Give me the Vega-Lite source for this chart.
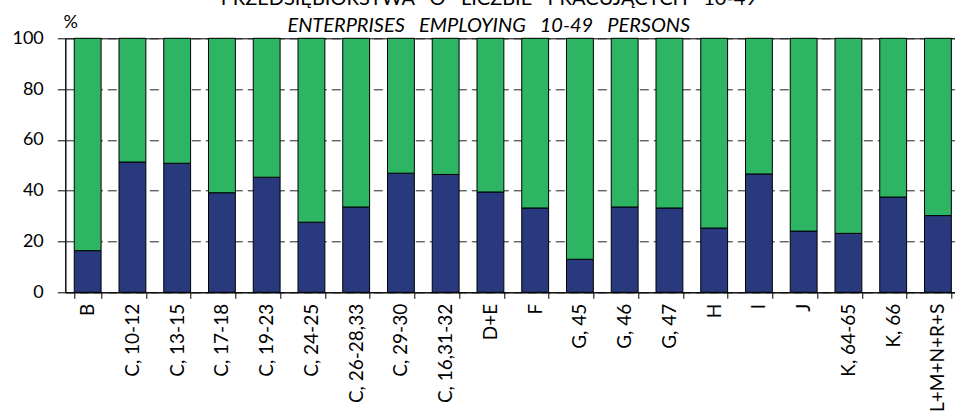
{
  "$schema": "https://vega.github.io/schema/vega-lite/v6.json",
  "autosize": {"type": "none"},
  "padding": {"left": 65.3, "top": 38.3, "right": 0, "bottom": 127},
  "width": 895,
  "height": 254,
  "background": "white",
  "config": {"font": "Lato", "view": {"stroke": "black", "strokeWidth": 1}},
  "title": {
    "text": "PRZEDSIĘBIORSTWA\u00a0\u00a0\u00a0O\u00a0\u00a0\u00a0LICZBIE\u00a0\u00a0\u00a0PRACUJĄCYCH\u00a0\u00a0\u00a010-49",
    "subtitle": "ENTERPRISES\u00a0\u00a0\u00a0EMPLOYING\u00a0\u00a0\u00a010-49\u00a0\u00a0\u00a0PERSONS",
    "anchor": "middle",
    "frame": "group",
    "dx": -24,
    "dy": 28,
    "offset": 5,
    "font": "Lato",
    "subtitleFont": "Lato",
    "fontSize": 20,
    "fontWeight": "normal",
    "subtitleFontSize": 20,
    "subtitleFontStyle": "italic",
    "subtitlePadding": 7,
    "color": "black",
    "subtitleColor": "black"
  },
  "data": {
    "values": [
      {"sector": "B", "series": "s1", "value": 16.4},
      {"sector": "B", "series": "s2", "value": 83.6},
      {"sector": "C, 10-12", "series": "s1", "value": 51.3},
      {"sector": "C, 10-12", "series": "s2", "value": 48.7},
      {"sector": "C, 13-15", "series": "s1", "value": 50.8},
      {"sector": "C, 13-15", "series": "s2", "value": 49.2},
      {"sector": "C, 17-18", "series": "s1", "value": 39.2},
      {"sector": "C, 17-18", "series": "s2", "value": 60.8},
      {"sector": "C, 19-23", "series": "s1", "value": 45.3},
      {"sector": "C, 19-23", "series": "s2", "value": 54.7},
      {"sector": "C, 24-25", "series": "s1", "value": 27.6},
      {"sector": "C, 24-25", "series": "s2", "value": 72.4},
      {"sector": "C, 26-28,33", "series": "s1", "value": 33.6},
      {"sector": "C, 26-28,33", "series": "s2", "value": 66.4},
      {"sector": "C, 29-30", "series": "s1", "value": 46.9},
      {"sector": "C, 29-30", "series": "s2", "value": 53.1},
      {"sector": "C, 16,31-32", "series": "s1", "value": 46.4},
      {"sector": "C, 16,31-32", "series": "s2", "value": 53.6},
      {"sector": "D+E", "series": "s1", "value": 39.5},
      {"sector": "D+E", "series": "s2", "value": 60.5},
      {"sector": "F", "series": "s1", "value": 33.2},
      {"sector": "F", "series": "s2", "value": 66.8},
      {"sector": "G, 45", "series": "s1", "value": 13.0},
      {"sector": "G, 45", "series": "s2", "value": 87.0},
      {"sector": "G, 46", "series": "s1", "value": 33.6},
      {"sector": "G, 46", "series": "s2", "value": 66.4},
      {"sector": "G, 47", "series": "s1", "value": 33.2},
      {"sector": "G, 47", "series": "s2", "value": 66.8},
      {"sector": "H", "series": "s1", "value": 25.3},
      {"sector": "H", "series": "s2", "value": 74.7},
      {"sector": "I", "series": "s1", "value": 46.6},
      {"sector": "I", "series": "s2", "value": 53.4},
      {"sector": "J", "series": "s1", "value": 24.1},
      {"sector": "J", "series": "s2", "value": 75.9},
      {"sector": "K, 64-65", "series": "s1", "value": 23.2},
      {"sector": "K, 64-65", "series": "s2", "value": 76.8},
      {"sector": "K, 66", "series": "s1", "value": 37.5},
      {"sector": "K, 66", "series": "s2", "value": 62.5},
      {"sector": "L+M+N+R+S", "series": "s1", "value": 30.2},
      {"sector": "L+M+N+R+S", "series": "s2", "value": 69.8}
    ]
  },
  "mark": {"type": "bar", "stroke": "black", "strokeWidth": 1},
  "encoding": {
    "x": {
      "field": "sector",
      "type": "nominal",
      "sort": null,
      "scale": {"paddingInner": 0.4, "paddingOuter": 0.2},
      "axis": {
        "title": null,
        "labelAngle": -90,
        "labelFontSize": 19,
        "labelColor": "black",
        "labelPadding": 5,
        "labelOverlap": false,
        "labelLimit": 0,
        "tickSize": 6,
        "tickColor": "black",
        "tickBand": "extent",
        "domainColor": "black",
        "grid": false
      }
    },
    "y": {
      "field": "value",
      "type": "quantitative",
      "stack": "zero",
      "scale": {"domain": [0, 100]},
      "axis": {
        "title": "%",
        "titleAngle": 0,
        "titleX": 5,
        "titleY": -11,
        "titleAlign": "center",
        "titleBaseline": "alphabetic",
        "titleFontSize": 18,
        "titleFontWeight": "normal",
        "titleColor": "black",
        "values": [0, 20, 40, 60, 80, 100],
        "labelFontSize": 18,
        "labelColor": "black",
        "labelPadding": 14,
        "tickSize": 8,
        "tickColor": "black",
        "domainColor": "black",
        "grid": true,
        "gridDash": [9, 5],
        "gridColor": "#222222",
        "gridWidth": 1
      }
    },
    "color": {
      "field": "series",
      "type": "nominal",
      "scale": {"domain": ["s1", "s2"], "range": ["#283A7D", "#2DB563"]},
      "legend": null
    },
    "order": {"field": "series", "sort": "ascending"}
  }
}
